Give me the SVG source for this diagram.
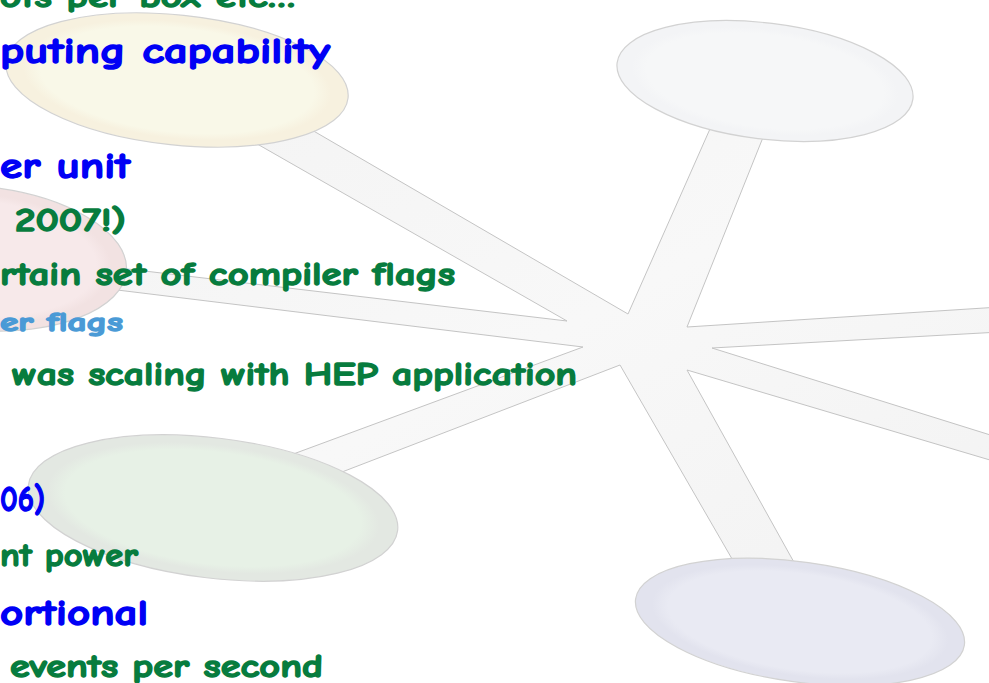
<svg xmlns="http://www.w3.org/2000/svg" width="989" height="683" viewBox="0 0 989 683">
<style>
.spoke{fill:url(#spk);stroke:#c4c4c4;stroke-width:1}
.node{stroke:#d2d2d2;stroke-width:1.2}
.t{font-family:"Comic Sans MS","Comic Neue","DejaVu Sans",sans-serif;font-weight:bold;stroke-width:1.4;stroke-linejoin:round}
.g{fill:#077c3e;stroke:#077c3e}
.b{fill:#0000f5;stroke:#0000f5}
.lb{fill:#4a9ad6;stroke:#4a9ad6}
</style>
<defs>
<linearGradient id="spk" x1="0" y1="0" x2="1" y2="1">
<stop offset="0" stop-color="#f3f3f3"/>
<stop offset="0.5" stop-color="#f8f8f8"/>
<stop offset="1" stop-color="#f2f2f2"/>
</linearGradient>
<radialGradient id="gy" cx="0.5" cy="0.5" r="0.5"><stop offset="0.8" stop-color="#f9f8e8"/><stop offset="0.9" stop-color="#f7f1df"/></radialGradient>
<radialGradient id="gw" cx="0.5" cy="0.5" r="0.5"><stop offset="0.8" stop-color="#f6f7f8"/><stop offset="0.9" stop-color="#f3f4f6"/></radialGradient>
<radialGradient id="gp" cx="0.5" cy="0.5" r="0.5"><stop offset="0.8" stop-color="#f7e9ea"/><stop offset="0.9" stop-color="#f2e2e2"/></radialGradient>
<radialGradient id="gg" cx="0.5" cy="0.5" r="0.5"><stop offset="0.8" stop-color="#e7f1e6"/><stop offset="0.9" stop-color="#e3e8e2"/></radialGradient>
<radialGradient id="gb" cx="0.5" cy="0.5" r="0.5"><stop offset="0.8" stop-color="#e9eaf3"/><stop offset="0.9" stop-color="#e2e3ee"/></radialGradient>
</defs>
<rect width="989" height="683" fill="#ffffff"/>
<g id="connectors">
<polygon class="spoke" points="250,94 628,314 725,95 776,105 687,327 1000,307 1000,332 712,348 1000,438 1000,463 687,370 815,600 750,590 620,365 290,492 250,470 583,347 60,283 60,261 567,321 210,117"/>
</g>
<g id="node-yellow"><ellipse class="node" cx="177" cy="80" rx="172" ry="65" transform="rotate(6 177 80)" fill="url(#gy)"/></g>
<g id="node-white"><ellipse class="node" cx="765" cy="81" rx="149" ry="58" transform="rotate(7 765 81)" fill="url(#gw)"/></g>
<g id="node-pink"><ellipse class="node" cx="-25" cy="258" rx="152" ry="72" transform="rotate(5 -25 258)" fill="url(#gp)"/></g>
<g id="node-green"><ellipse class="node" cx="213" cy="508" rx="186" ry="70" transform="rotate(7 213 508)" fill="url(#gg)"/></g>
<g id="node-blue"><ellipse class="node" cx="800" cy="622" rx="166" ry="60" transform="rotate(8 800 622)" fill="url(#gb)"/></g>
<g id="text">
<text class="t g" x="0" y="7" font-size="31" textLength="295" lengthAdjust="spacingAndGlyphs">ots per box etc…</text>
<text class="t b" x="0" y="63" font-size="37" textLength="330" lengthAdjust="spacingAndGlyphs">puting capability</text>
<text class="t b" x="0" y="178" font-size="37" textLength="130" lengthAdjust="spacingAndGlyphs">er unit</text>
<text class="t g" x="15" y="231" font-size="32" textLength="111" lengthAdjust="spacingAndGlyphs">2007!)</text>
<text class="t g" x="0" y="285" font-size="32" textLength="455" lengthAdjust="spacingAndGlyphs">rtain set of compiler flags</text>
<text class="t lb" x="0" y="331" font-size="26" textLength="123" lengthAdjust="spacingAndGlyphs">er flags</text>
<text class="t g" x="12" y="385" font-size="33" textLength="565" lengthAdjust="spacingAndGlyphs">was scaling with HEP application</text>
<text class="t b" x="0" y="511" font-size="37" textLength="45" lengthAdjust="spacingAndGlyphs">06)</text>
<text class="t g" x="0" y="566" font-size="32" textLength="138" lengthAdjust="spacingAndGlyphs">nt power</text>
<text class="t b" x="0" y="625" font-size="37" textLength="148" lengthAdjust="spacingAndGlyphs">ortional</text>
<text class="t g" x="10" y="677" font-size="32" textLength="313" lengthAdjust="spacingAndGlyphs">events per second</text>
</g>
</svg>
